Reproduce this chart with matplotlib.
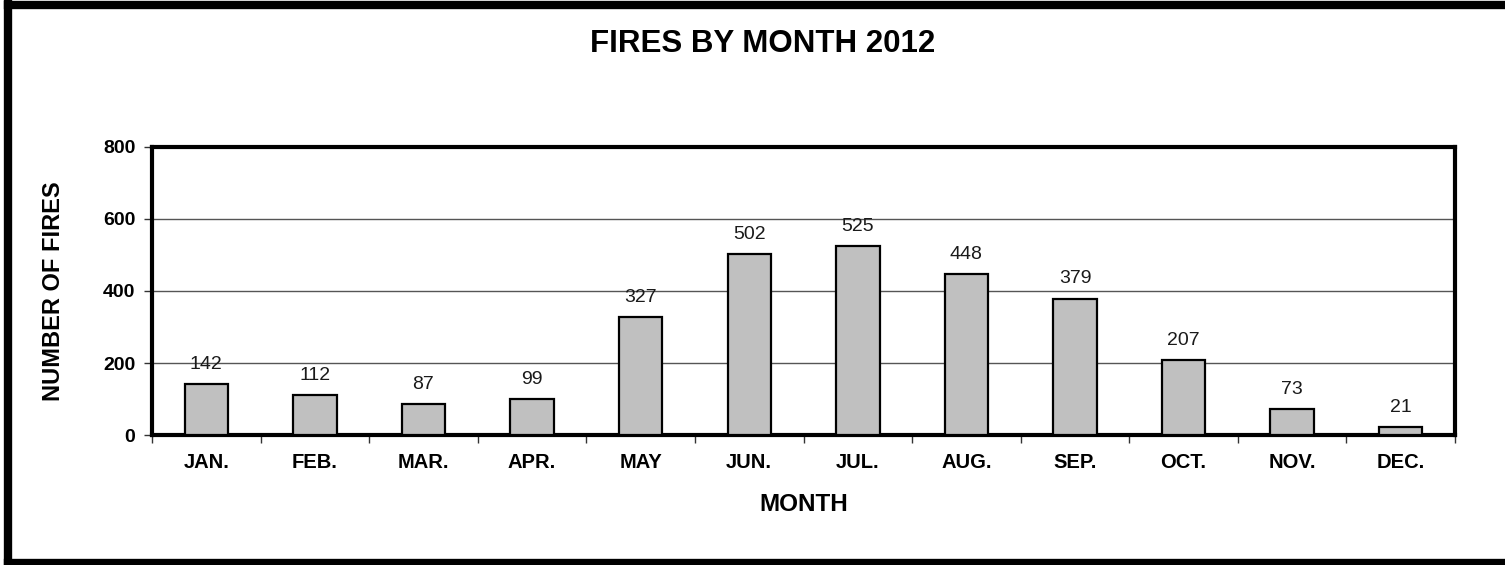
import matplotlib
matplotlib.use("Agg")
import matplotlib.pyplot as plt
from matplotlib.lines import Line2D
import numpy as np

months = ["JAN.", "FEB.", "MAR.", "APR.", "MAY", "JUN.", "JUL.", "AUG.", "SEP.", "OCT.", "NOV.", "DEC."]
fires = [142, 112, 87, 99, 327, 502, 525, 448, 379, 207, 73, 21]
yticks = [0, 200, 400, 600, 800]

plt.rcParams['font.family'] = ['Liberation Sans', 'DejaVu Sans']

fig = plt.figure(figsize=(15.05, 5.65), dpi=100)
ax = fig.add_axes([0.101, 0.230, 0.8658, 0.510])

x = np.arange(len(months))
ax.bar(x, fires, width=0.4, color="#c0c0c0", edgecolor="black", linewidth=1.6, zorder=3)
for xi, v in zip(x, fires):
    ax.annotate(str(v), (xi, v), xytext=(0, 8), textcoords="offset points",
                ha="center", va="bottom", fontsize=14, color="#1a1a1a", zorder=4)

ax.set_xlim(-0.5, len(months) - 0.5)
ax.set_ylim(0, 800)
ax.set_yticks(yticks)
ax.set_yticklabels([str(t) for t in yticks], fontsize=14, fontweight="bold")
ax.set_xticks(x)
ax.set_xticklabels(months, fontsize=14.5, fontweight="bold")
ax.tick_params(axis="x", which="major", length=0, pad=13)
ax.set_xticks(np.arange(-0.5, len(months), 1.0), minor=True)
ax.tick_params(axis="x", which="minor", length=6, width=1, color="#333333")
ax.tick_params(axis="y", length=6, width=1, color="#333333", pad=6)

ax.yaxis.grid(True, color="#555555", linewidth=1, zorder=0)
ax.set_axisbelow(True)
for s in ax.spines.values():
    s.set_linewidth(3)
    s.set_color("black")

ax.set_ylabel("NUMBER OF FIRES", fontsize=17, fontweight="bold", labelpad=27)
ax.set_xlabel("MONTH", fontsize=17.5, fontweight="bold", labelpad=15)

fig.text(0.507, 0.923, "FIRES BY MONTH 2012", ha="center", va="center",
         fontsize=22.5, fontweight="bold")

# figure border (top, left, bottom)
lw = 6
fig.add_artist(Line2D([0.005, 1.0], [0.992, 0.992], transform=fig.transFigure, color="black", linewidth=lw))
fig.add_artist(Line2D([0.0055, 0.0055], [0.003, 0.995], transform=fig.transFigure, color="black", linewidth=lw))
fig.add_artist(Line2D([0.005, 1.0], [0.003, 0.003], transform=fig.transFigure, color="black", linewidth=lw))

fig.savefig("out.png", dpi=100)
